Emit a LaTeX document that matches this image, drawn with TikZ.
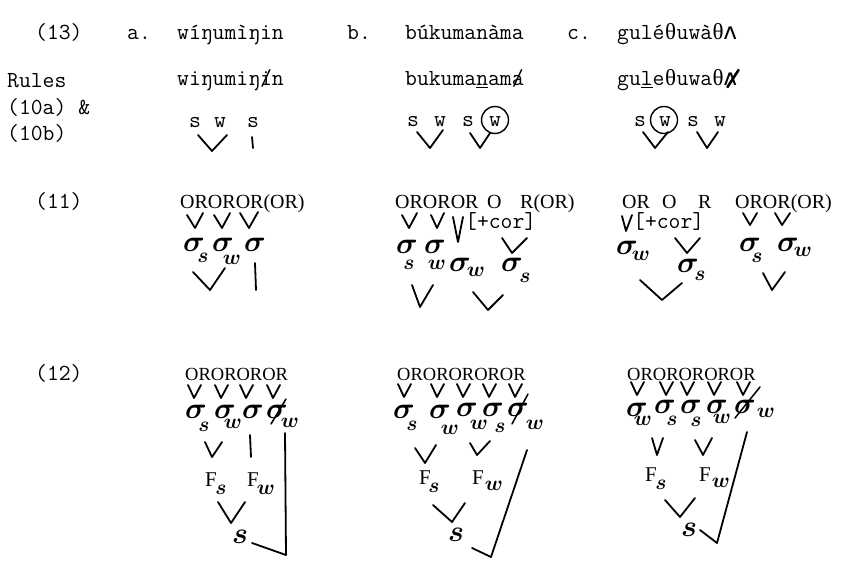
\RequirePackage{fix-cm}
\documentclass[tikz,border=0pt]{standalone}
\usepackage{fontspec}
\newfontfamily\seriff{Liberation Serif}
\newfontfamily\dvm{DejaVu Sans Mono}
\newcommand\Sg[3]{\node[sig] (#1) at (#2,#3) {$\sigma$};}
\newcommand\Sb[4]{\node[sb] (#1) at (#2,#3) {$#4$};}
\newcommand\thx{\makebox[0.525em]{\seriff θ}}
\newcommand\vx{\makebox[0.525em]{\dvm ʌ}}
\begin{document}
\begin{tikzpicture}[x=1pt,y=-1pt,
  tt/.style={font=\ttfamily\addfontfeature{FakeBold=1.2}\fontsize{23}{23}\selectfont, inner sep=0pt, anchor=base west},
  tl/.style={font=\ttfamily\addfontfeature{FakeBold=1.2}\fontsize{23}{23}\selectfont, inner sep=0pt, anchor=base},
  orA/.style={font=\seriff\fontsize{20}{20}\selectfont, inner sep=0pt, anchor=base west},
  orB/.style={font=\seriff\fontsize{18.5}{18.5}\selectfont, inner sep=0pt, anchor=base west},
  sig/.style={font=\fontsize{30}{30}\selectfont\boldmath, inner sep=0pt},
  sb/.style={font=\fontsize{21}{21}\selectfont\boldmath, inner sep=0pt},
  ff/.style={font=\seriff\fontsize{21}{21}\selectfont, inner sep=0pt},
  bigs/.style={font=\fontsize{30}{30}\selectfont\boldmath, inner sep=0pt},
  hand/.style={line width=1.8pt, line cap=round, line join=round},
  strike/.style={line width=1.5pt, line cap=round},
  ring/.style={circle, draw, line width=1.4pt, minimum size=27pt, inner sep=0pt}]
\useasboundingbox (0,0) rectangle (852,561);

% ---------- Row (13)
\node[tt] (n13) at (35,40) {(13)};
\node[tt] (la) at (127,40) {a.};
\node[tt] (wa) at (177,40) {wíŋumìŋin};
\node[tt] (lb) at (347,40) {b.};
\node[tt] (wb) at (405,40) {búkumanàma};
\node[tt] (lc) at (567,40) {c.};
\node[tt] (wc) at (617,40) {gulé\thx uwà\thx\vx};

% ---------- Rules row
\node[tt] (r1) at (7,88) {Rules};
\node[tt] (r2) at (7,115) {(10a) \&};
\node[tt] (r3) at (7,141) {(10b)};
\node[tt] (ra) at (177,86) {wiŋumiŋ\rlap{/}in};
\node[tt] (rb) at (405,86) {bukuma\underline{n}am\rlap{/}a};
\node[tt] (rc) at (617,86) {gu\underline{l}e\thx uwa\thx\vx};
\draw[line width=2.6pt, line cap=round] ([xshift=-9pt,yshift=-1pt]rc.base east) -- ([xshift=2pt,yshift=16pt]rc.base east);

% s w labels
\node[tl] (a1) at (195,128) {s};
\node[tl] (a2) at (220,128) {w};
\node[tl] (a3) at (253,128) {s};
\draw[hand] (198,135) -- (212,151) -- (227,135);
\draw[hand] (252,137) -- (253,148);

\node[tl] (b1) at (413,127) {s};
\node[tl] (b2) at (440,127) {w};
\node[tl] (b3) at (468,127) {s};
\node[tl] (b4) at (495,127) {w};
\node[ring] (b4r) at (495,120) {};
\draw[hand] (417,132) -- (430,148) -- (443,130);
\draw[hand] (470,133) -- (480,148) -- (490,133);

\node[tl] (c1) at (640,127) {s};
\node[tl] (c2) at (665,127) {w};
\node[ring] (c2r) at (664,120) {};
\node[tl] (c3) at (693,127) {s};
\node[tl] (c4) at (720,127) {w};
\draw[hand] (643,132) -- (655,148) -- (668,132);
\draw[hand] (697,132) -- (707,148) -- (718,132);

% ---------- Row (11)
\node[tt] (n11) at (35,209) {(11)};
\node[orA] (oa) at (180,209) {OROROR(OR)};
\node[orA] (ob1) at (395,209) {OROROR};
\node[orA] (ob2) at (487,209) {O};
\node[orA] (ob3) at (520,209) {R(OR)};
\node[orA] (oc1) at (622,209) {OR};
\node[orA] (oc2) at (662,209) {O};
\node[orA] (oc3) at (698,209) {R};
\node[orA] (oc4) at (735,209) {OROR(OR)};
\node[tt] (corb) at (465,229) {[+cor]};
\node[tt] (corc) at (633,229) {[+cor]};

% a
\draw[hand] (187,215) -- (195,228) -- (203,213);
\draw[hand] (214,215) -- (222,228) -- (230,213);
\draw[hand] (240,213) -- (249,228) -- (258,212);
\Sg{sa1}{194}{245} \Sb{sa1x}{203}{258}{s}
\Sg{sa2}{223}{245} \Sb{sa2x}{232}{260}{w}
\Sg{sa3}{255}{245}
\draw[hand] (193,272) -- (210,290) -- (225,268);
\draw[hand] (255,263) -- (256,290);
% b
\draw[hand] (402,215) -- (409,228) -- (417,213);
\draw[hand] (431,215) -- (437,228) -- (444,213);
\draw[hand] (453,217) -- (458,242) -- (463,217);
\draw[hand] (502,238) -- (512,253) -- (527,238);
\Sg{sb1}{407}{247} \Sb{sb1x}{409}{265}{s}
\Sg{sb2}{435}{247} \Sb{sb2x}{437}{265}{w}
\Sg{sb3}{460}{265} \Sb{sb3x}{476}{272}{w}
\Sg{sb4}{512}{265} \Sb{sb4x}{525}{278}{s}
\draw[hand] (412,285) -- (420,307) -- (433,285);
\draw[hand] (473,292) -- (488,310) -- (503,295);
% c
\draw[hand] (622,216) -- (626,231) -- (632,215);
\draw[hand] (675,238) -- (687,253) -- (700,238);
\Sg{sc1}{627}{248} \Sb{sc1x}{641}{256}{w}
\Sg{sc2}{688}{266} \Sb{sc2x}{700}{276}{s}
\draw[hand] (640,280) -- (662,300) -- (682,283);
\draw[hand] (743,213) -- (750,225) -- (757,213);
\draw[hand] (775,213) -- (782,225) -- (790,213);
\Sg{sc3}{750}{245} \Sb{sc3x}{757}{258}{s}
\Sg{sc4}{788}{245} \Sb{sc4x}{803}{252}{w}
\draw[hand] (763,273) -- (772,290) -- (785,272);

% ---------- Row (12)
\node[tt] (n12) at (35,381) {(12)};
\node[orB] (pa) at (185,381) {OROROROR};
\node[orB] (pb) at (397,381) {OROROROROR};
\node[orB] (pc) at (627,381) {OROROROROR};

% a
\foreach \c in {194,221,246,273} \draw[hand] (\c-6,385) -- (\c,398) -- (\c+7,385);
\Sg{ta1}{196}{412} \Sb{ta1x}{204}{427}{s}
\Sg{ta2}{225}{412} \Sb{ta2x}{233}{424}{w}
\Sg{ta3}{253}{412}
\Sg{ta4}{277}{412} \Sb{ta4x}{290}{423}{w}
\draw[strike] (271,424) -- (286,399);
\draw[hand] (205,442) -- (212,457) -- (222,442);
\draw[hand] (250,435) -- (251,457);
\node[ff] (fa1) at (211,480) {F}; \Sb{fa1x}{221}{490}{s}
\node[ff] (fa2) at (253,480) {F}; \Sb{fa2x}{266}{490}{w}
\draw[hand] (218,502) -- (231,523) -- (245,502);
\node[bigs] (sa) at (240,537) {$s$};
\coordinate (la1) at (285,433);
\coordinate (la2) at (286,555);
\coordinate (la3) at (252,543);
\draw[hand] (la1) -- (la2) -- (la3);
% b
\foreach \c in {404,437,463,489,515} \draw[hand] (\c-6,384) -- (\c,397) -- (\c+7,384);
\Sg{tb1}{404}{412} \Sb{tb1x}{412}{426}{s}
\Sg{tb2}{440}{412} \Sb{tb2x}{450}{430}{w}
\Sg{tb3}{467}{410} \Sb{tb3x}{479}{425}{w}
\Sg{tb4}{493}{410} \Sb{tb4x}{500}{428}{s}
\Sg{tb5}{518}{410} \Sb{tb5x}{535}{425}{w}
\draw[strike] (512,424) -- (528,394);
\draw[hand] (415,448) -- (425,463) -- (436,445);
\draw[hand] (470,443) -- (477,455) -- (490,441);
\node[ff] (fb1) at (425,478) {F}; \Sb{fb1x}{434}{488}{s}
\node[ff] (fb2) at (478,478) {F}; \Sb{fb2x}{494}{486}{w}
\draw[hand] (433,505) -- (452,522) -- (465,503);
\node[bigs] (sbn) at (456,535) {$s$};
\coordinate (lb1) at (527,450);
\coordinate (lb2) at (491,557);
\coordinate (lb3) at (472,548);
\draw[hand] (lb1) -- (lb2) -- (lb3);
% c
\foreach \c in {637,666,687,714,743} \draw[hand] (\c-6,382) -- (\c,395) -- (\c+7,382);
\Sg{tc1}{637}{410} \Sb{tc1x}{643}{421}{w}
\Sg{tc2}{665}{407} \Sb{tc2x}{672}{421}{s}
\Sg{tc3}{691}{407} \Sb{tc3x}{696}{422}{s}
\Sg{tc4}{717}{407} \Sb{tc4x}{722}{419}{w}
\Sg{tc5}{745}{407} \Sb{tc5x}{766}{413}{w}
\draw[strike] (735,418) -- (760,387);
\draw[hand] (652,438) -- (657,455) -- (663,438);
\draw[hand] (695,440) -- (703,455) -- (712,438);
\node[ff] (fc1) at (651,475) {F}; \Sb{fc1x}{661}{485}{s}
\node[ff] (fc2) at (705,475) {F}; \Sb{fc2x}{721}{483}{w}
\draw[hand] (665,500) -- (680,517) -- (695,498);
\node[bigs] (scn) at (689,530) {$s$};
\coordinate (lc1) at (747,432);
\coordinate (lc2) at (717,543);
\coordinate (lc3) at (700,530);
\draw[hand] (lc1) -- (lc2) -- (lc3);
\end{tikzpicture}
\end{document}
